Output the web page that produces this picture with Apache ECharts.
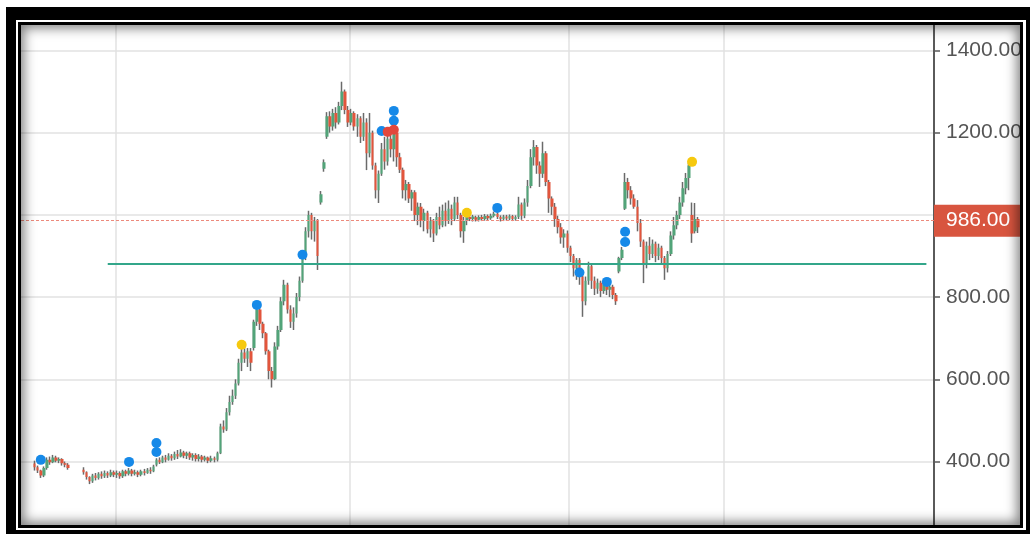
<!DOCTYPE html>
<html>
<head>
<meta charset="utf-8">
<script src="https://cdn.jsdelivr.net/npm/echarts@6/dist/echarts.min.js"></script>
<style>
html,body{margin:0;padding:0;background:#fff;width:1031px;height:535px;overflow:hidden}
#outer{position:absolute;left:6px;top:7px;width:1024px;height:527px;background:#000}
#gap{position:absolute;left:16px;top:20px;width:1010px;height:510px;background:#fff}
#inner{position:absolute;left:18px;top:22px;width:1005px;height:506px;background:#000}
#chart{position:absolute;left:21px;top:25px;width:999px;height:500px;background:#fff}
#shade{position:absolute;left:21px;top:25px;width:999px;height:500px;box-shadow:inset 0 0 12px 3px rgba(0,0,0,0.5);pointer-events:none}
</style>
</head>
<body>
<div id="outer"></div><div id="gap"></div><div id="inner"></div>
<div id="chart"></div><div id="shade"></div>
<script>
// ---- data ----
const categoryCount = 300;
const cats = Array.from({length: categoryCount}, (_, i) => 'D' + (i + 1));
const xSplitIndex = [31, 108, 180, 231];
const yTicks = [400, 600, 800, 1000, 1200, 1400];
const yLabels = [400, 600, 800, 1200, 1400];
const lastPrice = 986;
const supportLevel = 882;
const supportFrom = 28, supportTo = 297;

// [open, close, low, high]
const candles = [
 '-','-','-','-',
 // 4-15
 [395,386,378,402],[386,378,372,390],[378,366,360,380],[366,384,362,388],
 [384,404,380,410],[404,398,392,412],[398,410,396,416],[410,402,398,414],
 [402,406,396,410],[406,396,390,408],[396,392,386,400],[392,384,380,396],
 // 16-19
 '-','-','-','-',
 // 20-64
 [380,374,368,386],[374,362,356,376],[362,352,345,364],[352,366,348,370],[366,360,354,372],
 [360,370,356,374],[370,364,358,376],[364,372,360,378],[372,366,360,376],[366,374,362,380],
 [374,368,362,378],[368,372,360,378],[372,364,358,376],[364,376,360,380],[376,370,364,380],
 [370,378,366,384],[378,370,364,382],[370,374,366,380],[374,368,362,378],[368,376,364,380],
 [376,372,366,382],[372,380,370,384],[380,376,370,386],[376,388,374,392],[392,404,388,408],
 [404,398,394,410],[398,410,396,414],[410,404,398,416],[404,414,402,420],[414,408,402,418],
 [408,418,404,424],[418,412,406,428],[412,422,410,430],[422,414,408,426],[414,420,406,424],
 [420,410,404,424],[410,416,402,420],[416,406,400,420],[406,412,400,418],[412,404,398,416],
 [404,410,400,414],[410,402,396,412],[402,408,398,414],[408,404,398,412],[404,420,400,424],
 // 65-97
 [420,485,418,492],[485,478,470,500],[478,520,474,530],[520,545,512,560],[545,560,538,575],
 [560,590,552,600],[590,640,585,650],[640,665,620,680],[665,650,640,690],[650,668,630,676],
 [668,640,620,676],[676,740,670,745],[740,770,730,780],[770,735,720,775],[735,712,700,740],
 [712,668,660,715],[668,620,600,672],[620,600,580,630],[600,680,598,690],[680,720,672,730],
 [720,790,715,800],[790,830,780,842],[830,770,760,835],[770,740,725,780],[740,760,720,775],
 [760,800,750,810],[800,840,790,850],[840,900,835,905],[900,960,890,970],[960,1000,945,1010],
 [1000,960,940,1005],[960,985,935,995],[985,900,866,990],
 // 98-99
 [1030,1050,1025,1058],[1112,1128,1105,1135],
 // 100-124
 [1190,1240,1185,1250],[1240,1215,1200,1252],[1215,1248,1205,1258],[1248,1225,1210,1262],[1225,1265,1220,1275],
 [1265,1300,1255,1324],[1300,1255,1245,1305],[1255,1225,1214,1265],[1225,1248,1218,1258],[1248,1215,1205,1252],
 [1215,1235,1190,1245],[1235,1190,1175,1240],[1190,1225,1180,1248],[1225,1150,1109,1235],[1150,1200,1140,1248],
 [1200,1120,1110,1205],[1120,1060,1040,1127],[1060,1100,1029,1108],[1100,1160,1095,1175],[1160,1130,1110,1190],
 [1130,1185,1120,1207],[1185,1160,1140,1214],[1160,1200,1130,1210],[1200,1140,1117,1212],[1140,1110,1102,1151],
 // 125-149
 [1110,1060,1040,1115],[1060,1075,1035,1085],[1075,1040,1029,1080],[1040,1055,1010,1061],[1055,1000,985,1060],
 [1000,1020,975,1030],[1020,985,970,1029],[985,1005,960,1015],[1005,965,955,1010],[965,985,945,995],
 [985,955,934,990],[955,995,950,1005],[995,975,965,1020],[975,1010,970,1025],[1010,985,972,1030],
 [985,1015,978,1035],[1015,990,975,1025],[990,1030,985,1044],[1030,1000,990,1044],[1000,960,945,1005],
 [960,985,932,995],[985,1000,975,1005],[995,990,985,998],[990,996,984,1000],[994,988,984,998],
 // 150-174
 [988,995,984,999],[995,990,985,1000],[990,997,986,1002],[997,992,987,1001],[992,998,988,1003],
 [998,1003,994,1008],[1003,995,990,1006],[995,990,984,999],[990,996,985,1000],[996,991,986,1000],
 [991,997,987,1001],[997,990,985,1000],[990,995,986,999],[995,1025,990,1044],[1025,998,988,1030],
 [998,1030,992,1040],[1030,1070,1020,1085],[1070,1140,1065,1160],[1140,1165,1120,1182],[1165,1120,1100,1170],
 [1120,1100,1068,1130],[1100,1150,1090,1178],[1150,1080,1070,1155],[1080,1040,1005,1085],[1040,1020,1000,1045],
 // 175-199
 [1020,990,971,1029],[990,970,955,998],[970,945,930,980],[945,955,920,965],[955,920,908,962],
 [920,900,885,925],[900,870,850,905],[870,890,842,895],[890,850,830,895],[850,790,752,855],
 [790,840,780,850],[840,875,830,886],[875,840,820,880],[840,820,805,850],[820,835,808,845],
 [835,815,800,840],[815,830,808,840],[830,818,805,837],[818,825,800,832],[825,805,795,830],
 [805,790,781,810],[862,895,858,898],[895,915,890,922],[1015,1080,1012,1102],[1080,1060,1040,1090],
 // 200-222
 [1060,1040,1025,1070],[1040,1020,1015,1050],[1020,980,960,1036],[980,935,922,990],[935,880,834,940],
 [880,925,870,935],[925,905,890,946],[905,930,895,940],[930,900,885,935],[900,920,890,930],
 [920,895,883,925],[895,870,842,900],[870,905,860,912],[905,950,900,960],[950,975,940,995],
 [975,1000,965,1010],[1000,1030,990,1044],[1030,1065,1020,1080],[1065,1090,1050,1102],[1090,1120,1060,1127],
 [1000,955,932,1030],[960,990,955,1029],[990,970,956,995]
];

// signal markers: [category index, price]
const blueDots = [[6,404],[35,399],[44,423],[44,445],[77,781],[92,903],[118,1204],[122,1229],[122,1253],[156,1017],[183,860],[192,837],[198,934],[198,959]];
const redDots = [[120,1202],[122,1207]];
const yellowDots = [[72,684],[146,1005],[220,1129]];

// ---- chart ----
const FONT = '"Liberation Sans", Arial, sans-serif';
const toPts = arr => arr.map(d => [cats[d[0]], d[1]]);
const chart = echarts.init(document.getElementById('chart'), null, {renderer: 'canvas'});
chart.setOption({
  animation: false,
  grid: {left: 0, right: 86, top: 0, bottom: 0, containLabel: false, outerBoundsMode: 'none'},
  xAxis: {
    type: 'category', data: cats, boundaryGap: true,
    axisLine: {show: false}, axisTick: {show: false}, axisLabel: {show: false},
    splitLine: {show: true, interval: (i) => xSplitIndex.includes(i), lineStyle: {color: '#e2e2e2', width: 1.5}}
  },
  yAxis: {
    type: 'value', position: 'right', min: 245.5, max: 1462,
    axisLine: {show: true, lineStyle: {color: '#5a5a5a', width: 2}},
    axisTick: {show: true, length: 6, customValues: yTicks, lineStyle: {color: '#5a5a5a', width: 1.5}},
    axisLabel: {customValues: yLabels, color: '#555', fontSize: 21, fontFamily: FONT, margin: 12,
      formatter: v => Number(v).toFixed(2)},
    splitLine: {show: true, lineStyle: {color: '#e2e2e2', width: 1.5}}
  },
  series: [
    {
      type: 'candlestick', name: 'wick', data: candles, barWidth: 1, silent: true,
      itemStyle: {color: '#6a6a6a', color0: '#6a6a6a', borderColor: '#6a6a6a', borderColor0: '#6a6a6a', borderWidth: 1.5}
    },
    {
      type: 'candlestick', name: 'body', data: candles, barWidth: 3, silent: true,
      itemStyle: {color: '#52a479', color0: '#e2553c', borderColor: 'rgba(0,0,0,0)', borderColor0: 'rgba(0,0,0,0)', borderWidth: 0},
      markLine: {
        symbol: ['none', 'none'], silent: true, animation: false,
        data: [
          {yAxis: lastPrice,
           lineStyle: {color: '#ec8a7c', type: [3, 2], width: 1},
           label: {show: true, position: 'end', distance: 0, formatter: lastPrice.toFixed(2),
             color: '#fff', backgroundColor: '#d8553f', fontSize: 21, fontFamily: FONT, padding: [6, 14, 5, 12]}},
          [{coord: [cats[supportFrom], supportLevel], lineStyle: {color: '#33a68a', type: 'solid', width: 2}, label: {show: false}},
           {coord: [cats[supportTo], supportLevel]}]
        ]
      }
    },
    {type: 'scatter', name: 'blue', data: toPts(blueDots), symbolSize: 10, z: 5, itemStyle: {color: '#1689e8', opacity: 1}},
    {type: 'scatter', name: 'red', data: toPts(redDots), symbolSize: 10, z: 6, itemStyle: {color: '#e2473c', opacity: 1}},
    {type: 'scatter', name: 'yellow', data: toPts(yellowDots), symbolSize: 10, z: 6, itemStyle: {color: '#f6c90e', opacity: 1}}
  ]
});
</script>
</body>
</html>
